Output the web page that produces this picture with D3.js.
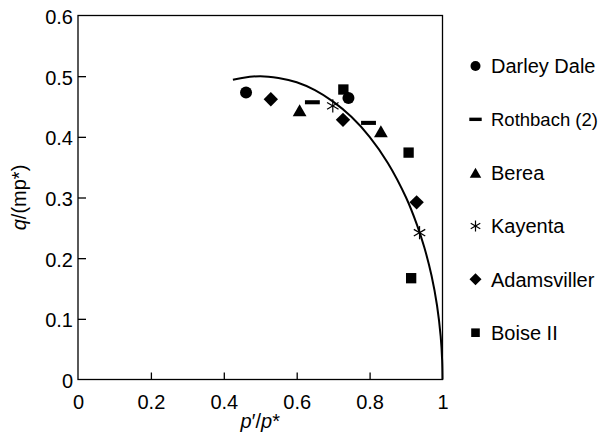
<!DOCTYPE html>
<html>
<head>
<meta charset="utf-8">
<script src="https://cdn.jsdelivr.net/npm/d3@7"></script>
<style>
  html, body { margin: 0; padding: 0; background: #fff; }
  svg { display: block; font-family: "Liberation Sans", Arial, sans-serif; }
</style>
</head>
<body>
<svg id="chart" width="602" height="445"></svg>
<script>
// ---- data ----
const xTicks = [0, 0.2, 0.4, 0.6, 0.8, 1];
const xTickLabels = ["0", "0.2", "0.4", "0.6", "0.8", "1"];
const yTicks = [0, 0.1, 0.2, 0.3, 0.4, 0.5, 0.6];
const yTickLabels = ["0", "0.1", "0.2", "0.3", "0.4", "0.5", "0.6"];

const seriesNames = ["Darley Dale", "Rothbach (2)", "Berea", "Kayenta", "Adamsviller", "Boise II"];
const seriesSymbols = ["circle", "dash", "triangle", "asterisk", "diamond", "square"];
const darleyDale = [[0.461, 0.473], [0.742, 0.464]];
const rothbach = [[0.643, 0.457], [0.797, 0.423]];
const berea = [[0.608, 0.444], [0.831, 0.409]];
const kayenta = [[0.699, 0.451], [0.937, 0.242]];
const adamsviller = [[0.529, 0.462], [0.727, 0.428], [0.929, 0.292]];
const boiseII = [[0.728, 0.478], [0.907, 0.374], [0.914, 0.167]];
const seriesValues = [darleyDale, rothbach, berea, kayenta, adamsviller, boiseII];

// yield surface curve
const curveX = [0.425, 0.45, 0.5, 0.55, 0.6, 0.65, 0.7, 0.75, 0.8, 0.85, 0.9, 0.93, 0.95, 0.97, 0.985, 0.995, 0.999, 1.0];
const curveY = [0.494, 0.497, 0.500, 0.497, 0.490, 0.477, 0.458, 0.433, 0.400, 0.357, 0.300, 0.255, 0.218, 0.171, 0.122, 0.071, 0.032, 0];

(function () {
// ---- layout ----
const svg = d3.select("#chart");
const mLeft = 78, mRight = 442.5, mTop = 15.5, mBottom = 379.5;
const x = d3.scaleLinear().domain([0, 1]).range([mLeft, mRight]);
const y = d3.scaleLinear().domain([0, 0.6]).range([mBottom, mTop]);

// frame
svg.append("rect")
  .attr("x", mLeft).attr("y", mTop)
  .attr("width", mRight - mLeft).attr("height", mBottom - mTop)
  .attr("fill", "none").attr("stroke", "#000").attr("stroke-width", 1.3);

// axes
const xAxis = d3.axisBottom(x).tickValues(xTicks)
  .tickFormat((d, i) => xTickLabels[i])
  .tickSizeInner(-7).tickSizeOuter(0).tickPadding(15);
const gx = svg.append("g").attr("transform", `translate(0,${mBottom})`).call(xAxis);
gx.select(".domain").remove();
gx.selectAll(".tick line").attr("stroke", "#000").attr("stroke-width", 1.3)
  .filter(d => d === 0 || d === 1).remove();
gx.selectAll(".tick text").attr("font-size", 20).attr("fill", "#000")
  .attr("font-family", "Liberation Sans, Arial, sans-serif");

const yAxis = d3.axisLeft(y).tickValues(yTicks)
  .tickFormat((d, i) => yTickLabels[i])
  .tickSizeInner(-8).tickSizeOuter(0).tickPadding(5);
const gy = svg.append("g").attr("transform", `translate(${mLeft},0)`).call(yAxis);
gy.select(".domain").remove();
gy.selectAll(".tick line").attr("stroke", "#000").attr("stroke-width", 1.3)
  .filter(d => d === 0 || d === 0.6).remove();
gy.selectAll(".tick text").attr("font-size", 20).attr("fill", "#000")
  .attr("dy", "0.4em")
  .attr("font-family", "Liberation Sans, Arial, sans-serif");

// axis titles
const xt = svg.append("text")
  .attr("x", (mLeft + mRight) / 2).attr("y", 428)
  .attr("text-anchor", "middle").attr("font-size", 20);
xt.append("tspan").attr("font-style", "italic").text("p");
xt.append("tspan").text("′/");
xt.append("tspan").attr("font-style", "italic").text("p");
xt.append("tspan").text("*");

const yt = svg.append("text")
  .attr("transform", `translate(26,${(mTop + mBottom) / 2}) rotate(-90)`)
  .attr("text-anchor", "middle").attr("font-size", 20);
yt.append("tspan").attr("font-style", "italic").text("q");
yt.append("tspan").text("/(mp*)");

// curve
const curvePts = curveX.map((v, i) => [v, curveY[i]]);
svg.append("path")
  .datum(curvePts)
  .attr("d", d3.line().x(d => x(d[0])).y(d => y(d[1])).curve(d3.curveCatmullRom.alpha(0.5)))
  .attr("fill", "none").attr("stroke", "#000").attr("stroke-width", 2);

// symbol drawing
function drawSymbol(g, type, cx, cy, s) {
  if (type === "circle") {
    g.append("circle").attr("cx", cx).attr("cy", cy).attr("r", s * 0.5).attr("fill", "#000");
  } else if (type === "dash") {
    g.append("rect").attr("x", cx - s * 0.62).attr("y", cy - s * 0.17)
      .attr("width", s * 1.24).attr("height", s * 0.34).attr("fill", "#000");
  } else if (type === "triangle") {
    const h = s * 1.0, w = s * 1.15;
    g.append("path").attr("d", `M${cx},${cy - h / 2}L${cx + w / 2},${cy + h / 2}L${cx - w / 2},${cy + h / 2}Z`).attr("fill", "#000");
  } else if (type === "diamond") {
    const r = s * 0.6;
    g.append("path").attr("d", `M${cx},${cy - r}L${cx + r},${cy}L${cx},${cy + r}L${cx - r},${cy}Z`).attr("fill", "#000");
  } else if (type === "square") {
    g.append("rect").attr("x", cx - s * 0.43).attr("y", cy - s * 0.43)
      .attr("width", s * 0.86).attr("height", s * 0.86).attr("fill", "#000");
  } else if (type === "asterisk") {
    const r = s * 0.55;
    [90, 30, -30].forEach(a => {
      const rad = a * Math.PI / 180;
      g.append("line")
        .attr("x1", cx - r * Math.cos(rad)).attr("y1", cy - r * Math.sin(rad))
        .attr("x2", cx + r * Math.cos(rad)).attr("y2", cy + r * Math.sin(rad))
        .attr("stroke", "#000").attr("stroke-width", 1.2);
    });
  }
}

// points
const gp = svg.append("g");
seriesValues.forEach((vals, si) => {
  vals.forEach(d => drawSymbol(gp, seriesSymbols[si], x(d[0]), y(d[1]), 12));
});

// legend
const legendRow = d3.scalePoint().domain(seriesNames).range([66, 332.7]);
const gl = svg.append("g");
const textX = 491, maxRight = 598;
seriesNames.forEach((name, i) => {
  const ry = legendRow(name);
  drawSymbol(gl, seriesSymbols[i], 475.5, ry, 10);
  const t = gl.append("text").attr("x", textX).attr("y", ry).attr("dy", "0.36em")
    .attr("font-size", 20).attr("fill", "#000").text(name);
  const w = t.node().getComputedTextLength();
  if (textX + w > maxRight) {
    t.attr("font-size", Math.floor(20 * (maxRight - textX) / w * 10) / 10);
  }
});
})();
</script>
</body>
</html>
